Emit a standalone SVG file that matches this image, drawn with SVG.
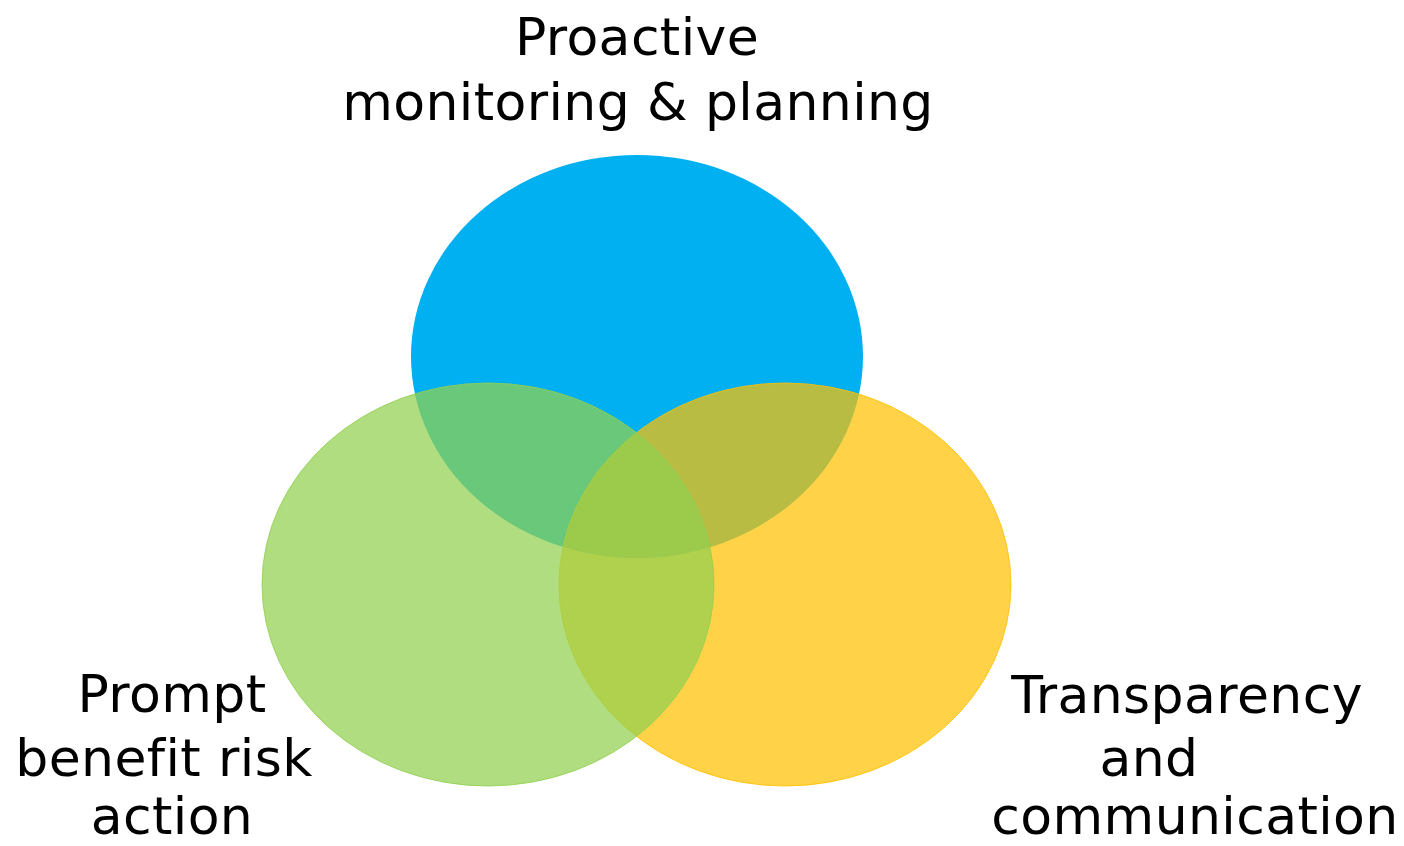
<svg xmlns="http://www.w3.org/2000/svg" width="1404" height="846" viewBox="0 0 1404 846">
  <style>
    .label { font-family: "DejaVu Sans", "Liberation Sans", sans-serif; font-size: 52px; fill: #000000; text-anchor: middle; letter-spacing: 0.4px; font-variant-ligatures: none; }
    .blue { fill: #00B0F0; }
    .yellow { fill: #FFC000; fill-opacity: 0.72; stroke: #FFC000; stroke-opacity: 0.8; stroke-width: 1; }
    .green { fill: #92D050; fill-opacity: 0.73; stroke: #92D050; stroke-opacity: 0.8; stroke-width: 1; }
  </style>
  <rect width="1404" height="846" fill="#FFFFFF"/>

  <!-- Proactive monitoring & planning -->
  <g id="node-proactive">
    <ellipse class="blue" cx="637" cy="356.5" rx="226" ry="201.5"/>
    <text class="label" x="637" y="55">Proactive</text>
    <text class="label" x="638" y="120">monitoring &amp; planning</text>
  </g>

  <!-- Transparency and communication -->
  <g id="node-transparency">
    <ellipse class="yellow" cx="785" cy="584.5" rx="226" ry="201.5"/>
    <text class="label" x="1187" y="713">Transparency</text>
    <text class="label" x="1149" y="776">and</text>
    <text class="label" x="1195" y="834">communication</text>
  </g>

  <!-- Prompt benefit risk action -->
  <g id="node-prompt">
    <ellipse class="green" cx="488" cy="584.5" rx="226" ry="201.5"/>
    <text class="label" x="172" y="712">Prompt</text>
    <text class="label" x="164" y="776">benefit risk</text>
    <text class="label" x="172" y="834">action</text>
  </g>

  <g id="connectors"/>
</svg>
